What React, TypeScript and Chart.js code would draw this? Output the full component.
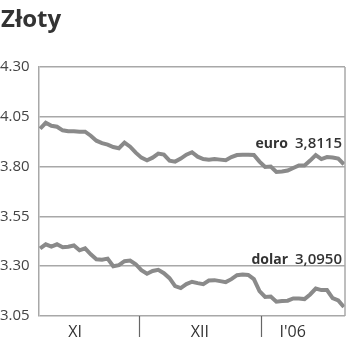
import React, { useEffect, useRef } from "react";
import { Chart, registerables } from "chart.js";

Chart.register(...registerables);

const title = "Złoty";
const yTicks = [3.05, 3.3, 3.55, 3.8, 4.05, 4.3];
const euroValues = [
  3.99, 4.02, 4.005, 4.0, 3.982, 3.978, 3.977, 3.975, 3.975, 3.955,
  3.93, 3.918, 3.91, 3.898, 3.892, 3.92, 3.9, 3.87, 3.845, 3.832,
  3.845, 3.865, 3.86, 3.83, 3.825, 3.84, 3.86, 3.872, 3.85, 3.838,
  3.835, 3.838, 3.835, 3.832, 3.848, 3.858, 3.86, 3.86, 3.858, 3.825,
  3.798, 3.8, 3.773, 3.775, 3.78, 3.793, 3.806, 3.806, 3.83, 3.858,
  3.838, 3.848, 3.846, 3.84, 3.8115,
];
const dollarValues = [
  3.389, 3.41, 3.398, 3.41, 3.395, 3.398, 3.404, 3.38, 3.39, 3.36,
  3.335, 3.333, 3.338, 3.3, 3.305, 3.325, 3.328, 3.31, 3.28, 3.262,
  3.276, 3.282, 3.265, 3.24, 3.2, 3.19, 3.21, 3.222, 3.215, 3.21,
  3.228, 3.23, 3.225, 3.22, 3.235, 3.255, 3.258, 3.256, 3.235, 3.175,
  3.146, 3.148, 3.122, 3.125, 3.127, 3.138, 3.138, 3.135, 3.158, 3.188,
  3.18, 3.18, 3.14, 3.128, 3.095,
];
const monthLabels = ["XI", "XII", "I'06"];
const monthLabelAt = [6.2, 28.4, 44.9];
const monthBoundaries = [17.6, 39.25];
const seriesLabels = [
  { name: "euro", value: "3,8115", at: 3.895 },
  { name: "dolar", value: "3,0950", at: 3.31 },
];

const LINE = "#8a8a8a";
const GRID = "#a8a8a8";
const TEXT = "#333333";

export default function App() {
  const ref = useRef<HTMLCanvasElement>(null);
  useEffect(() => {
    if (!ref.current) return;
    const decor = {
      id: "decor",
      afterDraw(chart: any) {
        const ctx = chart.ctx;
        const x = chart.scales.x;
        const y = chart.scales.y;
        const a = chart.chartArea;
        ctx.save();
        // right border
        ctx.strokeStyle = GRID;
        ctx.lineWidth = 1.5;
        ctx.beginPath();
        ctx.moveTo(a.right, a.top);
        ctx.lineTo(a.right, a.bottom);
        ctx.stroke();
        // month separators
        ctx.strokeStyle = "#666";
        ctx.lineWidth = 1.2;
        monthBoundaries.forEach((m) => {
          const px = Math.round(x.getPixelForValue(m)) + 0.5;
          ctx.beginPath();
          ctx.moveTo(px, a.bottom);
          ctx.lineTo(px, a.bottom + 21);
          ctx.stroke();
        });
        // month labels
        ctx.fillStyle = TEXT;
        ctx.font = "16px 'Open Sans'";
        ctx.textAlign = "center";
        ctx.textBaseline = "alphabetic";
        monthLabels.forEach((l, i) => {
          ctx.fillText(l, x.getPixelForValue(monthLabelAt[i]), a.bottom + 21);
        });
        // series labels
        ctx.textAlign = "right";
        seriesLabels.forEach((s) => {
          const py = y.getPixelForValue(s.at);
          ctx.font = "600 15px 'Open Sans'";
          const vw = ctx.measureText(s.value).width;
          ctx.fillText(s.value, a.right - 3, py);
          ctx.font = "700 14px 'Open Sans'";
          ctx.fillText(s.name, a.right - 3 - vw - 7, py);
        });
        // title
        ctx.textAlign = "left";
        ctx.font = "700 24px 'Open Sans'";
        ctx.fillText(title, 1, 27);
        ctx.restore();
      },
    };
    const chart = new Chart(ref.current, {
      type: "line",
      data: {
        datasets: [
          {
            data: euroValues.map((v, i) => ({ x: i, y: v })),
            borderColor: LINE,
            borderWidth: 4,
            pointRadius: 0,
            tension: 0,
          },
          {
            data: dollarValues.map((v, i) => ({ x: i, y: v })),
            borderColor: LINE,
            borderWidth: 4,
            pointRadius: 0,
            tension: 0,
          },
        ],
      },
      options: {
        animation: false,
        responsive: false,
        devicePixelRatio: 1,
        layout: { padding: { left: 0, top: 67, right: 5, bottom: 35 } },
        plugins: {
          legend: { display: false },
          tooltip: { enabled: false },
          title: { display: false },
        },
        scales: {
          x: {
            type: "linear",
            min: -0.2,
            max: 54.2,
            display: false,
          },
          y: {
            min: 3.05,
            max: 4.3,
            afterBuildTicks: (s: any) => {
              s.ticks = yTicks.map((v) => ({ value: v }));
            },
            afterFit: (s: any) => {
              s.width = 39;
            },
            ticks: {
              callback: (v: any) => Number(v).toFixed(2),
              font: { family: "'Open Sans'", size: 15 },
              color: "#444",
              crossAlign: "far",
              padding: 0,
            },
            grid: { color: GRID, lineWidth: 1.5, drawTicks: false },
            border: { display: true, color: GRID, width: 1.5 },
          },
        },
      },
      plugins: [decor],
    });
    return () => chart.destroy();
  }, []);
  return (
    <div style={{ position: "fixed", left: 0, top: 0, width: 350, height: 351, background: "#fff" }}>
      <canvas ref={ref} width={350} height={351} style={{ display: "block" }} />
    </div>
  );
}
